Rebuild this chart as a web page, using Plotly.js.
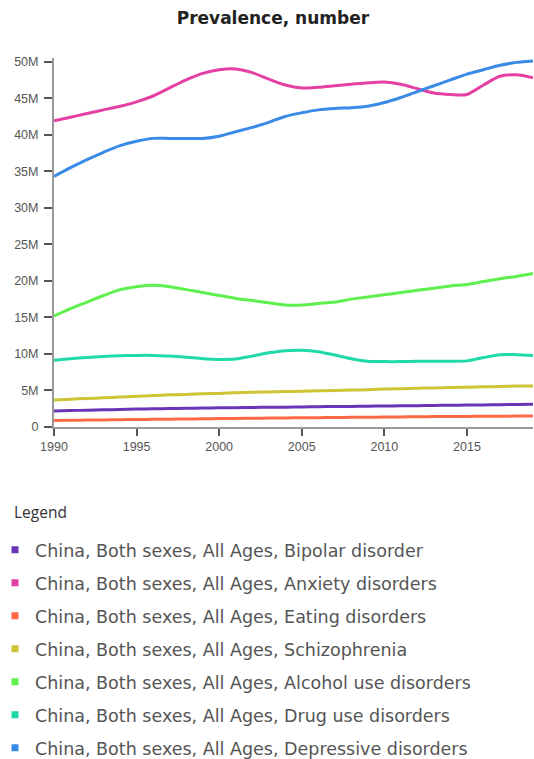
<!DOCTYPE html>
<html>
<head>
<meta charset="utf-8">
<script src="https://cdn.plot.ly/plotly-3.0.1.min.js"></script>
<style>html,body{margin:0;padding:0;background:#fff;}#chart{width:534px;height:759px;}</style>
</head>
<body>
<div id="chart"></div>
<script>
const years = [1990,1991,1992,1993,1994,1995,1996,1997,1998,1999,2000,2001,2002,2003,2004,2005,2006,2007,2008,2009,2010,2011,2012,2013,2014,2015,2016,2017,2018,2019];

const seriesNames = [
  "China, Both sexes, All Ages, Bipolar disorder",
  "China, Both sexes, All Ages, Anxiety disorders",
  "China, Both sexes, All Ages, Eating disorders",
  "China, Both sexes, All Ages, Schizophrenia",
  "China, Both sexes, All Ages, Alcohol use disorders",
  "China, Both sexes, All Ages, Drug use disorders",
  "China, Both sexes, All Ages, Depressive disorders"
];

// values in millions
const bipolar = [2.2,2.25,2.3,2.35,2.4,2.45,2.5,2.52,2.55,2.6,2.62,2.65,2.68,2.7,2.72,2.75,2.78,2.8,2.82,2.85,2.88,2.9,2.92,2.95,2.97,3.0,3.02,3.05,3.08,3.1];
const anxiety = [41.9,42.4,42.9,43.4,43.9,44.5,45.3,46.4,47.5,48.4,48.9,49.0,48.5,47.6,46.8,46.4,46.5,46.7,46.9,47.1,47.2,46.9,46.3,45.7,45.5,45.5,46.8,48.0,48.2,47.8];
const eating = [0.9,0.92,0.95,0.97,1.0,1.02,1.05,1.07,1.1,1.12,1.15,1.17,1.2,1.22,1.24,1.26,1.28,1.3,1.32,1.34,1.36,1.38,1.4,1.42,1.43,1.45,1.46,1.48,1.49,1.5];
const schizophrenia = [3.7,3.8,3.9,4.0,4.1,4.2,4.3,4.4,4.45,4.55,4.6,4.7,4.75,4.8,4.85,4.9,4.95,5.0,5.05,5.1,5.2,5.25,5.3,5.35,5.4,5.45,5.5,5.55,5.6,5.6];
const alcohol = [15.2,16.2,17.1,18.0,18.8,19.2,19.4,19.2,18.8,18.4,18.0,17.6,17.3,17.0,16.7,16.7,16.9,17.1,17.5,17.8,18.1,18.4,18.7,19.0,19.3,19.5,19.9,20.3,20.6,21.0];
const drug = [9.15,9.35,9.5,9.65,9.75,9.8,9.8,9.7,9.55,9.35,9.25,9.3,9.7,10.15,10.45,10.5,10.3,9.85,9.35,9.0,8.95,8.95,9.0,9.0,9.0,9.05,9.5,9.9,9.9,9.8];
const depressive = [34.3,35.5,36.6,37.6,38.5,39.1,39.5,39.5,39.5,39.5,39.8,40.4,41.0,41.7,42.5,43.0,43.4,43.6,43.7,43.9,44.4,45.1,45.9,46.7,47.5,48.3,48.9,49.5,49.9,50.1];

const yTickVals = [0,5,10,15,20,25,30,35,40,45,50];
const yTickText = ["0","5M","10M","15M","20M","25M","30M","35M","40M","45M","50M"];
const xTickVals = [1990,1995,2000,2005,2010,2015];

const allValues = [bipolar, anxiety, eating, schizophrenia, alcohol, drug, depressive];
const colors = ["#6a35b8","#e43fa3","#ff6a45","#cfc435","#5ef04c","#1fd9a8","#3a8ae8"];

const traces = [];
allValues.forEach((vals, i) => {
  traces.push({
    x: years, y: vals, type: "scatter", mode: "lines",
    line: {color: colors[i], width: 3, shape: "spline", smoothing: 0.8},
    showlegend: false, hoverinfo: "x+y", name: seriesNames[i]
  });
});
allValues.forEach((vals, i) => {
  traces.push({
    x: [null], y: [null], type: "scatter", mode: "markers",
    marker: {color: colors[i], symbol: "square", size: 7},
    name: seriesNames[i], legendgroup: "g" + i, showlegend: true
  });
});

const layout = {
  width: 534, height: 759,
  margin: {l: 54, r: 1, t: 58, b: 332, autoexpand: false},
  paper_bgcolor: "#fff", plot_bgcolor: "#fff",
  title: {text: "<b>Prevalence, number</b>", x: 0.511, xanchor: "center", y: 0.976, yanchor: "middle",
          font: {family: "DejaVu Sans", size: 17, color: "#222"}},
  xaxis: {
    range: [1990, 2019], tickvals: xTickVals, ticks: "outside", ticklen: 7, tickwidth: 2, tickcolor: "#555",
    showgrid: false, zeroline: false, showline: true, linecolor: "#999", linewidth: 2,
    tickfont: {family: "Liberation Sans", size: 12.5, color: "#555"}
  },
  yaxis: {
    range: [0, 50.5], tickvals: yTickVals, ticktext: yTickText, ticks: "outside", ticklen: 8, tickwidth: 2, tickcolor: "#555",
    showgrid: false, zeroline: false, showline: true, linecolor: "#999", linewidth: 2,
    ticklabelstandoff: 3,
    tickfont: {family: "Liberation Sans", size: 12.5, color: "#555"}
  },
  showlegend: true,
  legend: {
    x: -0.1232, xanchor: "left", y: -0.2842, yanchor: "top",
    orientation: "v", tracegroupgap: 7.25,
    font: {family: "DejaVu Sans", size: 17.5, color: "#555"},
    bgcolor: "rgba(0,0,0,0)"
  },
  annotations: [{
    text: "Legend", xref: "paper", yref: "paper", x: -0.0877, y: -0.2304,
    xanchor: "left", yanchor: "middle", showarrow: false,
    font: {family: "Open Sans", size: 15.5, color: "#333"}
  }]
};

Plotly.newPlot("chart", traces, layout, {displayModeBar: false, staticPlot: true});
</script>
</body>
</html>
